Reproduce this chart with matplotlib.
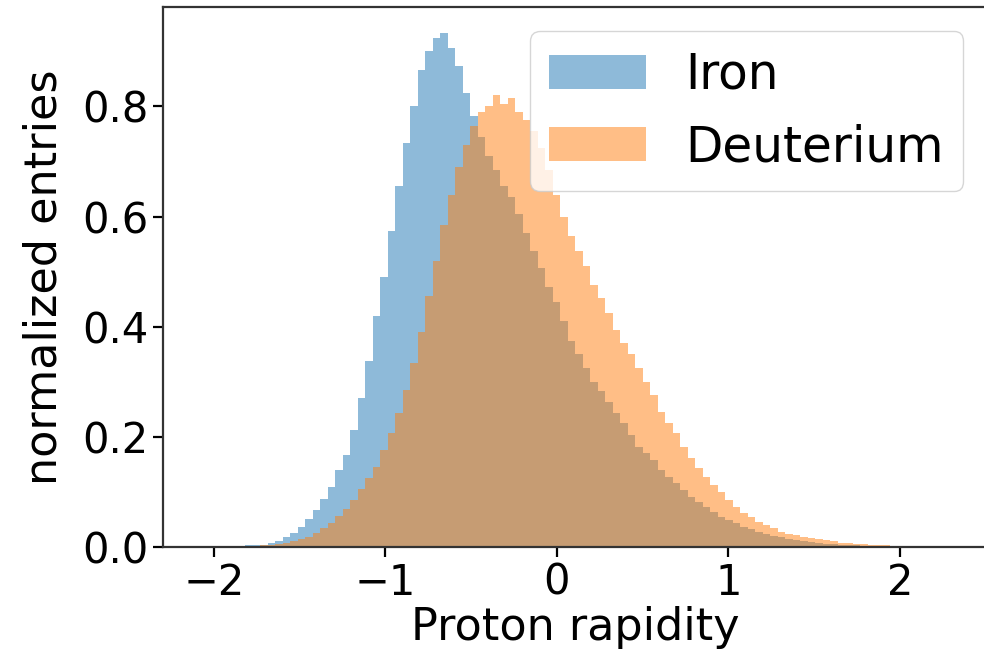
import numpy as np
import matplotlib
matplotlib.use("Agg")
import matplotlib.pyplot as plt

# histogram range and bin count (rapidity)
RAPIDITY_MIN, RAPIDITY_MAX, N_BINS = -2.0775, 2.2925, 100

# normalized entries per bin
iron = [
    0, 0, 0, 0, 0, 0.001,
    0.003, 0.003, 0.004, 0.007, 0.011, 0.018, 0.025, 0.036, 0.051, 0.067,
    0.087, 0.109, 0.140, 0.167, 0.213, 0.271, 0.338, 0.419, 0.491, 0.573,
    0.655, 0.734, 0.801, 0.866, 0.901, 0.925, 0.934, 0.907, 0.873, 0.825,
    0.782, 0.745, 0.710, 0.685, 0.655, 0.635, 0.605, 0.570, 0.537, 0.507,
    0.473, 0.445, 0.410, 0.375, 0.350, 0.325, 0.300, 0.283, 0.263, 0.243,
    0.225, 0.204, 0.182, 0.171, 0.158, 0.140, 0.127, 0.116, 0.104, 0.091,
    0.082, 0.073, 0.064, 0.055, 0.049, 0.044, 0.036, 0.033, 0.027, 0.024,
    0.020, 0.018, 0.015, 0.013, 0.011, 0.009, 0.008, 0.006, 0.005, 0.004,
    0.003, 0.003, 0.002, 0.002, 0.001, 0.001, 0, 0, 0, 0,
    0, 0, 0, 0,
]
deuterium = [
    0, 0, 0, 0, 0, 0,
    0.001, 0.002, 0.003, 0.004, 0.006, 0.008, 0.010, 0.014, 0.019, 0.025,
    0.034, 0.044, 0.056, 0.069, 0.085, 0.105, 0.125, 0.146, 0.176, 0.207,
    0.244, 0.285, 0.335, 0.390, 0.455, 0.520, 0.585, 0.640, 0.690, 0.730,
    0.765, 0.790, 0.800, 0.820, 0.805, 0.815, 0.790, 0.775, 0.755, 0.725,
    0.685, 0.640, 0.600, 0.564, 0.537, 0.510, 0.476, 0.452, 0.425, 0.395,
    0.370, 0.350, 0.325, 0.300, 0.276, 0.245, 0.225, 0.207, 0.182, 0.162,
    0.144, 0.127, 0.113, 0.100, 0.085, 0.073, 0.062, 0.055, 0.045, 0.040,
    0.035, 0.028, 0.024, 0.022, 0.019, 0.017, 0.015, 0.013, 0.010, 0.008,
    0.007, 0.006, 0.005, 0.004, 0.003, 0.003, 0.002, 0.002, 0.001, 0,
    0, 0, 0, 0,
]
labels = ["Iron", "Deuterium"]

edges = np.linspace(RAPIDITY_MIN, RAPIDITY_MAX, N_BINS + 1)
centers = 0.5 * (edges[:-1] + edges[1:])

fig = plt.figure(figsize=(9.84, 6.66), dpi=100)
ax = fig.add_axes([163 / 984, 1 - 547 / 666, 0.838, 540 / 666])

for vals, lab in zip([iron, deuterium], labels):
    ax.hist(centers, bins=edges, weights=vals, histtype="stepfilled",
            alpha=0.5, label=lab)

ax.set_xticks([-2, -1, 0, 1, 2])
ax.set_yticks([0.0, 0.2, 0.4, 0.6, 0.8])
ax.tick_params(labelsize=30, length=7, width=1.6)
for s in ax.spines.values():
    s.set_linewidth(1.6)
    s.set_color("#333333")
ax.set_xlabel("Proton rapidity", fontsize=32, labelpad=2)
ax.set_ylabel("normalized entries", fontsize=32, labelpad=12)
ax.legend(loc="upper right", fontsize=35)

fig.savefig("out.png", dpi=100)
